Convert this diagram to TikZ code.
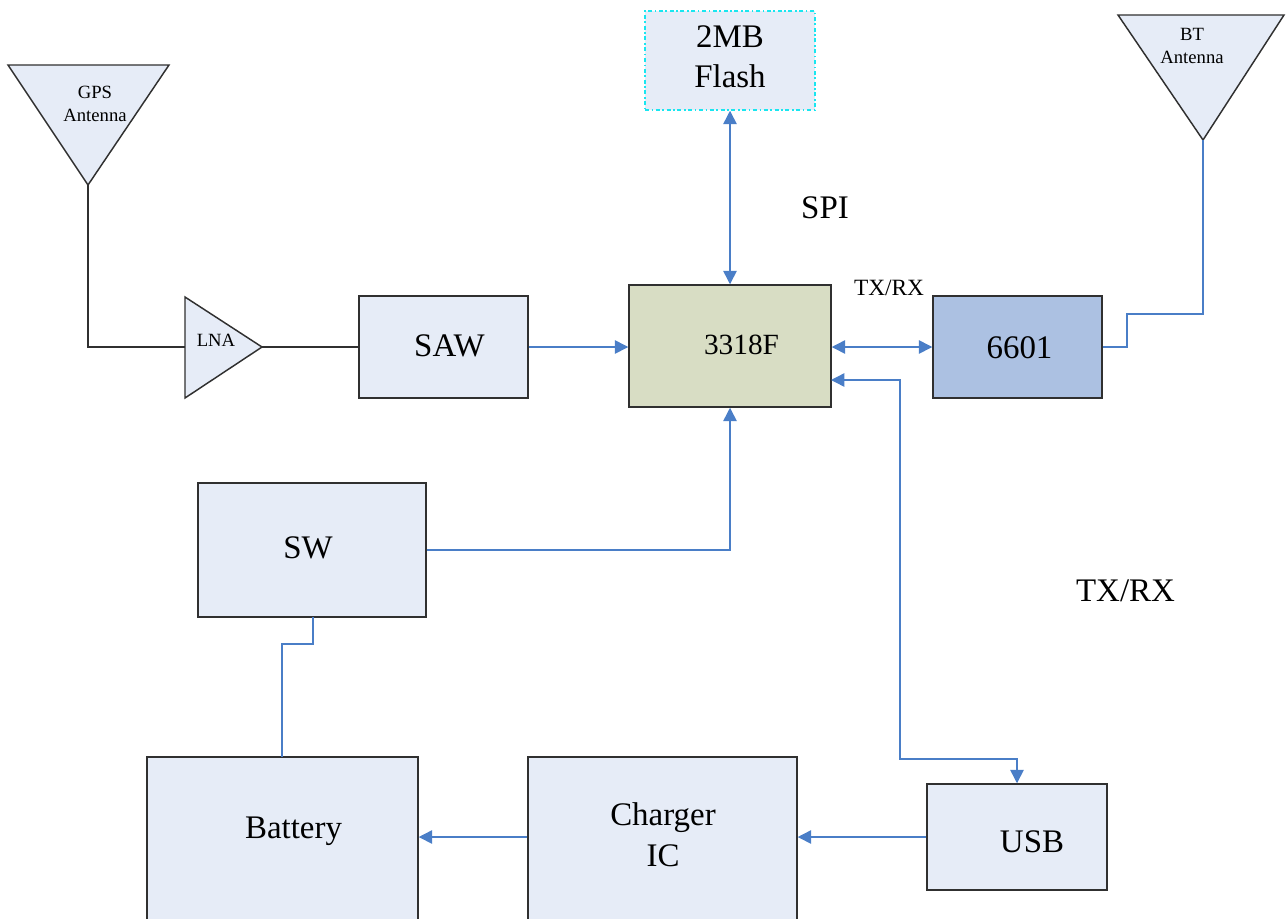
\documentclass[tikz,border=0pt]{standalone}
\usepackage{fontspec}
\setmainfont{Liberation Serif}
\usetikzlibrary{arrows.meta}
\definecolor{boxfill}{HTML}{E6ECF7}
\definecolor{chipfill}{HTML}{D8DDC4}
\definecolor{btfill}{HTML}{ACC1E2}
\definecolor{wireblue}{HTML}{4A7EC7}
\definecolor{boxline}{HTML}{303030}
\definecolor{flashline}{HTML}{19E6F0}
\tikzset{
	blockbox/.style={draw=boxline, line width=1.1pt, fill=boxfill, inner sep=0pt, font=\fontsize{24.7}{30}\selectfont, align=center},
	bigtext/.style={font=\fontsize{24.7}{31}\selectfont, align=center, inner sep=0pt},
	smalltext/.style={font=\fontsize{14}{17}\selectfont, align=center, inner sep=0pt},
	wire/.style={draw=wireblue, line width=1.1pt},
	wirehead/.style={wire, -{Triangle[length=10pt,width=10pt]}},
	wireboth/.style={wire, {Triangle[length=10pt,width=10pt]}-{Triangle[length=10pt,width=10pt]}},
	antwire/.style={draw=boxline, line width=1.1pt}
}
\begin{document}
\begin{tikzpicture}[x=0.75pt,y=-0.75pt]
	%%%%% START %%%%%
	\useasboundingbox (0,0) rectangle (1287,918);
	
	% antennas and amplifier
	\coordinate (gpstip) at (88,185);
	\coordinate (bttip) at (1203,140);
	\coordinate (lnain) at (185,347);
	\coordinate (lnatip) at (262,347);
	\draw[antwire, fill=boxfill] (8,65) -- (169,65) -- (gpstip) -- cycle;
	\draw[antwire, fill=boxfill] (1118,15) -- (1284,15) -- (bttip) -- cycle;
	\draw[antwire, fill=boxfill] (185,297) -- (lnatip) -- (185,398) -- cycle;
	\node[smalltext] (gpstext) at (95,104) {GPS\\Antenna};
	\node[smalltext] (bttext) at (1192,46) {BT\\Antenna};
	\node[smalltext] (lnatext) at (216,340) {LNA};
	
	% blocks
	\node[blockbox, minimum width=169pt*0.75, minimum height=102pt*0.75] (saw) at (443.5,347) {};
	\node[blockbox, fill=chipfill, minimum width=202pt*0.75, minimum height=122pt*0.75] (chip) at (730,346) {};
	\node[blockbox, fill=btfill, minimum width=169pt*0.75, minimum height=102pt*0.75] (bt) at (1017.5,347) {};
	\node[blockbox, draw=flashline, dash dot, minimum width=170pt*0.75, minimum height=99pt*0.75] (flash) at (730,60.5) {};
	\node[blockbox, minimum width=228pt*0.75, minimum height=134pt*0.75] (sw) at (312,550) {};
	\node[blockbox, minimum width=180pt*0.75, minimum height=106pt*0.75] (usb) at (1017,837) {};
	\node[blockbox, minimum width=271pt*0.75, minimum height=200pt*0.75] (battery) at (282.5,857) {};
	\node[blockbox, minimum width=269pt*0.75, minimum height=200pt*0.75] (charger) at (662.5,857) {};
	
	% texts
	\node[bigtext] (sawtext) at (449.5,346) {SAW};
	\node[bigtext, font=\fontsize{22}{28}\selectfont] (chiptext) at (741.5,345) {3318F};
	\node[bigtext] (bttxt) at (1019.5,348) {6601};
	\node[bigtext, font=\fontsize{24.7}{30}\selectfont] (flashtext) at (730,57) {2MB\\Flash};
	\node[bigtext] (swtext) at (308,548) {SW};
	\node[bigtext] (usbtext) at (1032,842) {USB};
	\node[bigtext] (batterytext) at (293.5,831) {Battery};
	\node[bigtext] (chargertext) at (663,835) {Charger\\IC};
	\node[bigtext] (spitext) at (825,208) {SPI};
	\node[bigtext] (txrxtext) at (1125.5,591) {TX/RX};
	\node[font=\fontsize{17.5}{21}\selectfont, inner sep=0pt] (chiptxrx) at (889,288) {TX/RX};
	
	% connectors
	\coordinate (chipusb) at (831,380);
	\coordinate (swtap) at (313,617);
	\coordinate (batterytap) at (282,757);
	\draw[antwire] (gpstip) |- (lnain);
	\draw[antwire] (lnatip) -- (saw.west);
	\draw[wire] (bttip) -- (1203,314) -- (1127,314) -- (1127,347) -- (bt.east);
	\draw[wirehead] (saw.east) -- (saw.east -| chip.west);
	\draw[wireboth] (flash.south) -- (flash.south |- chip.north);
	\draw[wireboth] (chip.east |- bt.west) -- (bt.west);
	\draw[wireboth] (chipusb) -- (900,380) -- (900,759) -- (1017,759) -- (usb.north);
	\draw[wirehead] (sw.east) -| (chip.south);
	\draw[wire] (swtap) -- (313,644) -- (282,644) -- (batterytap);
	\draw[wirehead] (usb.west) -- (usb.west -| charger.east);
	\draw[wirehead] (charger.west |- usb.west) -- (battery.east |- usb.west);
	
	%%%%% END %%%%%
\end{tikzpicture}
\end{document}
